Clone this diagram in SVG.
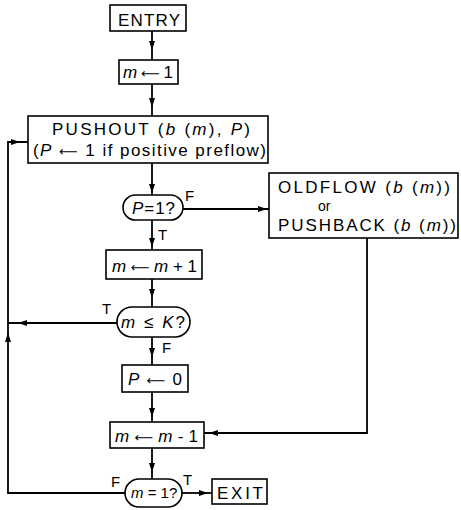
<svg xmlns="http://www.w3.org/2000/svg" xmlns:xlink="http://www.w3.org/1999/xlink" width="461" height="510" viewBox="0 0 461 510">
<style>
.box{fill:#fff;stroke:#000;stroke-width:1.6}
.ln{fill:none;stroke:#000;stroke-width:1.8}
.t{font-family:"Liberation Sans",Arial,sans-serif;font-size:17px;fill:#000}
.lb{font-family:"Liberation Sans",Arial,sans-serif;font-size:15px;fill:#000}
.i{font-style:italic}
.ar{font-family:"DejaVu Sans",sans-serif;font-size:13px}
</style>
<defs>
<path id="ah" d="M0,0 L-9,-3 L-9,3 Z" fill="#000"/>
</defs>
<rect width="461" height="510" fill="#fff"/>
<g id="connectors">
<path class="ln" d="M152 31 V60"/>
<path class="ln" d="M152 84 V116"/>
<path class="ln" d="M152 163 V195"/>
<path class="ln" d="M183 209 H269"/>
<path class="ln" d="M152 220 V250"/>
<path class="ln" d="M152 279 V307"/>
<path class="ln" d="M117 323 H8"/>
<path class="ln" d="M152 337 V365"/>
<path class="ln" d="M152 392 V422"/>
<path class="ln" d="M367 238 V433 H204"/>
<path class="ln" d="M152 448 V479"/>
<path class="ln" d="M125 493 H8 V142 H28"/>
<path class="ln" d="M182 493 H212"/>
<use xlink:href="#ah" transform="translate(152,50) rotate(90)"/>
<use xlink:href="#ah" transform="translate(152,107) rotate(90)"/>
<use xlink:href="#ah" transform="translate(152,193) rotate(90)"/>
<use xlink:href="#ah" transform="translate(267,209)"/>
<use xlink:href="#ah" transform="translate(152,247) rotate(90)"/>
<use xlink:href="#ah" transform="translate(152,298) rotate(90)"/>
<use xlink:href="#ah" transform="translate(18,323) rotate(180)"/>
<use xlink:href="#ah" transform="translate(152,357) rotate(90)"/>
<use xlink:href="#ah" transform="translate(152,417) rotate(90)"/>
<use xlink:href="#ah" transform="translate(209,433) rotate(180)"/>
<use xlink:href="#ah" transform="translate(152,472) rotate(90)"/>
<use xlink:href="#ah" transform="translate(8,333) rotate(-90)"/>
<use xlink:href="#ah" transform="translate(20,142)"/>
<use xlink:href="#ah" transform="translate(208,493)"/>
<text class="lb" x="185" y="201">F</text>
<text class="lb" x="158" y="240">T</text>
<text class="lb" x="102" y="314">T</text>
<text class="lb" x="162" y="353">F</text>
<text class="lb" x="111" y="487">F</text>
<text class="lb" x="183" y="485">T</text>
</g>
<g id="entry">
<rect class="box" x="110" y="5" width="76" height="26"/>
<text class="t" x="118" y="26" textLength="62" lengthAdjust="spacing">ENTRY</text>
</g>
<g id="init">
<rect class="box" x="119" y="60" width="59" height="24"/>
<text class="t" x="123" y="78" textLength="50" lengthAdjust="spacing"><tspan class="i">m</tspan> <tspan class="ar">⟵</tspan> 1</text>
</g>
<g id="pushout">
<rect class="box" x="28" y="116" width="240" height="47"/>
<text class="t" x="52" y="135" textLength="198" lengthAdjust="spacing">PUSHOUT  (<tspan class="i">b</tspan> (<tspan class="i">m</tspan>), <tspan class="i">P</tspan>)</text>
<text class="t" x="33" y="156" textLength="233" lengthAdjust="spacing">(<tspan class="i">P</tspan> <tspan class="ar">⟵</tspan> 1 if positive preflow)</text>
</g>
<g id="test-p">
<rect class="box" x="123" y="195" width="60" height="25" rx="12.5"/>
<text class="t" x="132" y="214" textLength="43" lengthAdjust="spacing"><tspan class="i">P</tspan>=1?</text>
</g>
<g id="oldflow">
<rect class="box" x="269" y="173" width="189" height="65"/>
<text class="t" x="278" y="193" textLength="172" lengthAdjust="spacing">OLDFLOW  (<tspan class="i">b</tspan> (<tspan class="i">m</tspan>))</text>
<text class="t" x="318" y="211" style="font-size:14px">or</text>
<text class="t" x="278" y="231" textLength="178" lengthAdjust="spacing">PUSHBACK (<tspan class="i">b</tspan> (<tspan class="i">m</tspan>))</text>
</g>
<g id="inc">
<rect class="box" x="106" y="250" width="96" height="29"/>
<text class="t" x="112" y="272" textLength="85" lengthAdjust="spacing"><tspan class="i">m</tspan> <tspan class="ar">⟵</tspan> <tspan class="i">m</tspan> + 1</text>
</g>
<g id="test-k">
<rect class="box" x="117" y="307" width="73" height="30" rx="15"/>
<text class="t" x="121" y="328" textLength="64" lengthAdjust="spacing"><tspan class="i">m</tspan> ≤ <tspan class="i">K</tspan>?</text>
</g>
<g id="reset-p">
<rect class="box" x="122" y="365" width="66" height="27"/>
<text class="t" x="128" y="385" textLength="54" lengthAdjust="spacing"><tspan class="i">P</tspan> <tspan class="ar">⟵</tspan> 0</text>
</g>
<g id="dec">
<rect class="box" x="110" y="422" width="94" height="26"/>
<text class="t" x="115" y="442" textLength="83" lengthAdjust="spacing"><tspan class="i">m</tspan> <tspan class="ar">⟵</tspan> <tspan class="i">m</tspan> - 1</text>
</g>
<g id="test-m">
<rect class="box" x="125" y="479" width="57" height="28" rx="14"/>
<text class="t" x="131" y="498" style="font-size:15px"><tspan class="i">m</tspan> = 1?</text>
</g>
<g id="exit">
<rect class="box" x="212" y="479" width="55" height="25"/>
<text class="t" x="217" y="499" textLength="46" lengthAdjust="spacing">EXIT</text>
</g>
</svg>
